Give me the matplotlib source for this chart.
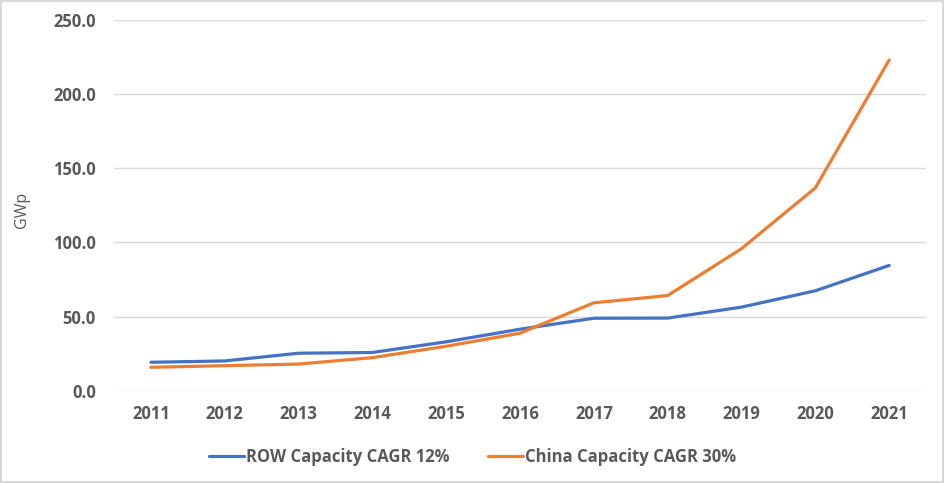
import matplotlib
matplotlib.use("Agg")
import matplotlib.pyplot as plt
from matplotlib.patches import Rectangle

years = ["2011", "2012", "2013", "2014", "2015", "2016", "2017", "2018", "2019", "2020", "2021"]
row_capacity = [19.2, 20.1, 25.3, 25.8, 33.0, 41.5, 48.9, 49.0, 56.4, 67.4, 84.5]
china_capacity = [15.8, 16.9, 18.0, 22.3, 30.0, 38.8, 59.3, 64.2, 95.8, 136.8, 223.0]
series_labels = ["ROW Capacity CAGR 12%", "China Capacity CAGR 30%"]
y_ticks = [0, 50, 100, 150, 200, 250]
y_label = "GWp"

plt.rcParams['font.family'] = ['Open Sans', 'DejaVu Sans']
txt = "#595959"

fig = plt.figure(figsize=(9.45, 4.83), dpi=100)
ax = fig.add_axes([0.1206, 0.191, 0.8594, 0.7676])

x = list(range(len(years)))
ax.plot(x, row_capacity, color="#4472C4", lw=2.3, label=series_labels[0], solid_capstyle="round")
ax.plot(x, china_capacity, color="#ED7D31", lw=2.3, label=series_labels[1], solid_capstyle="round")

ax.set_xlim(-0.5, len(years) - 0.5)
ax.set_ylim(0, 250)
ax.set_yticks(y_ticks)
ax.set_yticklabels([f"{v:.1f}" for v in y_ticks])
ax.set_xticks(x)
ax.set_xticklabels(years)
ax.grid(axis="y", color="#D9D9D9", lw=1)
ax.set_axisbelow(True)
for s in ax.spines.values():
    s.set_visible(False)
ax.tick_params(length=0, labelsize=12, colors=txt)
ax.tick_params(axis="y", pad=13)
ax.tick_params(axis="x", pad=10)
for lab in ax.get_xticklabels() + ax.get_yticklabels():
    lab.set_fontweight("bold")

fig.text(22 / 945, 1 - 210 / 483, y_label, rotation=90, ha="center", va="center", color=txt, fontsize=11.5)

leg = fig.legend(loc="center", bbox_to_anchor=(0.5, 1 - 457 / 483), ncol=2, frameon=False,
                 prop={"weight": "bold", "size": 12}, handlelength=2.1, handletextpad=0.15,
                 columnspacing=2.3)
for t in leg.get_texts():
    t.set_color(txt)

fig.patches.append(Rectangle((0.001, 0.002), 0.997, 0.995, transform=fig.transFigure,
                             fill=False, edgecolor="#D9D9D9", lw=1.5))

fig.savefig("out.png", dpi=100, facecolor="white")
